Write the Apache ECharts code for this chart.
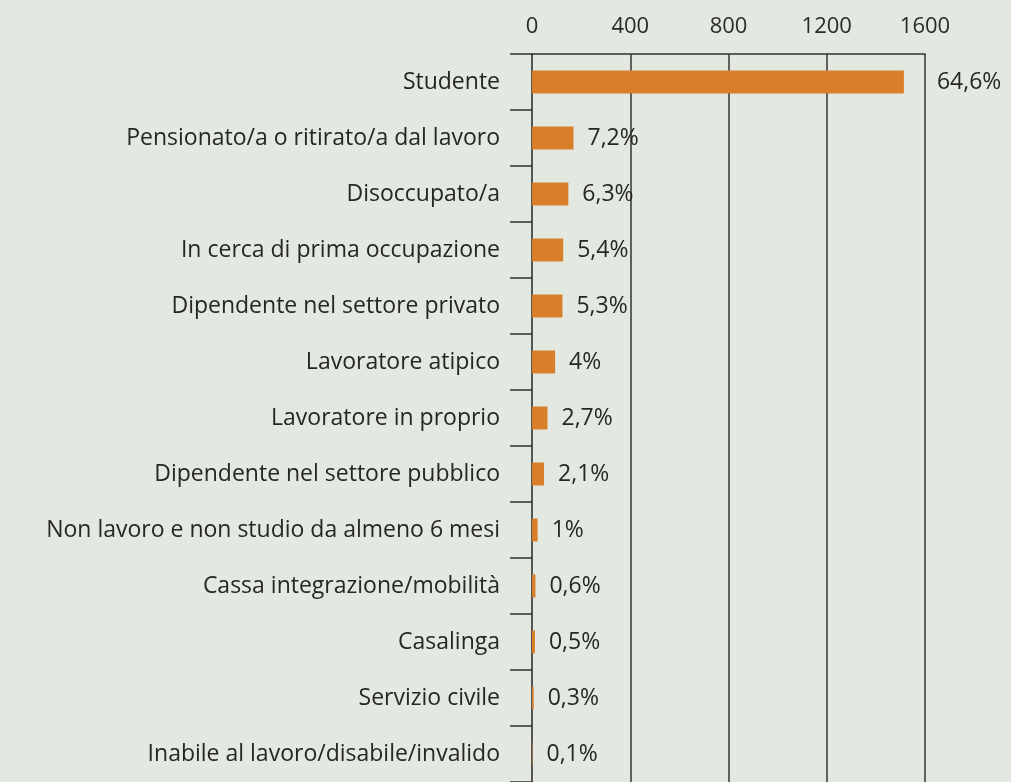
<!DOCTYPE html>
<html>
<head>
<meta charset="utf-8">
<script src="https://cdn.jsdelivr.net/npm/echarts@6/dist/echarts.min.js"></script>
<style>
  html, body { margin: 0; padding: 0; background: #e3e9e1; }
  #chart { width: 1011px; height: 782px; }
</style>
</head>
<body>
<div id="chart"></div>
<script>
// categorie e valori (conteggi stimati dal grafico, percentuali come stampate)
var categories = [
  'Studente',
  'Pensionato/a o ritirato/a dal lavoro',
  'Disoccupato/a',
  'In cerca di prima occupazione',
  'Dipendente nel settore privato',
  'Lavoratore atipico',
  'Lavoratore in proprio',
  'Dipendente nel settore pubblico',
  'Non lavoro e non studio da almeno 6 mesi',
  'Cassa integrazione/mobilità',
  'Casalinga',
  'Servizio civile',
  'Inabile al lavoro/disabile/invalido'
];
var counts = [1514, 169, 148, 127, 124, 94, 63, 49, 23, 14, 12, 7, 2];
var percentLabels = ['64,6%', '7,2%', '6,3%', '5,4%', '5,3%', '4%', '2,7%', '2,1%', '1%', '0,6%', '0,5%', '0,3%', '0,1%'];
var xTicks = [0, 400, 800, 1200, 1600];

var font = 'Open Sans';
var chart = echarts.init(document.getElementById('chart'));

var seriesData = counts.map(function (v, i) {
  var item = { value: v };
  // la prima etichetta sta fuori dal riquadro
  if (i === 0) item.label = { distance: 33 };
  return item;
});

chart.setOption({
  backgroundColor: '#e3e9e1',
  animation: false,
  grid: { left: 532, right: 86, top: 54, height: 730 },
  xAxis: {
    type: 'value',
    position: 'top',
    min: xTicks[0],
    max: xTicks[xTicks.length - 1],
    interval: 400,
    axisLine: { show: true, lineStyle: { color: '#333', width: 1.5 } },
    axisTick: { show: false },
    splitLine: { show: true, lineStyle: { color: '#333', width: 1.5 } },
    axisLabel: {
      color: '#2a2a2a', fontFamily: font, fontSize: 22, margin: 16,
      formatter: function (v) { return String(v); }
    }
  },
  yAxis: {
    type: 'category',
    inverse: true,
    data: categories,
    axisLine: { show: true, lineStyle: { color: '#555', width: 2 } },
    axisTick: { show: true, length: 22, lineStyle: { color: '#333', width: 1.5 } },
    axisLabel: { color: '#262626', fontFamily: font, fontSize: 23, margin: 32, interval: 0 }
  },
  series: [{
    type: 'bar',
    data: seriesData,
    barWidth: 23,
    itemStyle: { color: '#d97f2a' },
    label: {
      show: true,
      position: 'right',
      distance: 14,
      color: '#262626',
      fontFamily: font,
      fontSize: 23,
      formatter: function (p) { return percentLabels[p.dataIndex]; }
    }
  }]
});
</script>
</body>
</html>
